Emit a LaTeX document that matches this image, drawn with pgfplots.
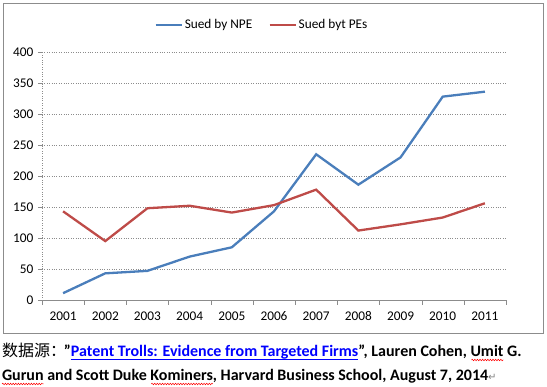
\documentclass[border=0pt]{standalone}
\usepackage{pgfplots}
\pgfplotsset{compat=1.18}
\usepackage{fontspec}
\usetikzlibrary{decorations.pathmorphing}
\setmainfont{Carlito}
\newfontfamily\cjk{Noto Sans CJK SC}
\newfontfamily\dejavu{DejaVu Sans}
\definecolor{npe}{HTML}{4A7EBB}
\definecolor{pes}{HTML}{BE4B48}
\definecolor{gridc}{HTML}{8C8C8C}
\definecolor{lnk}{HTML}{0000FF}
\begin{document}
\begin{tikzpicture}[x=1pt,y=1pt,
  captxt/.style={anchor=base west, inner sep=0pt, outer sep=0pt, font=\fontsize{16}{18}\selectfont\bfseries},
  wave/.style={red, line width=0.5pt, decorate, decoration={snake, amplitude=0.8pt, segment length=2.6pt}}]
\useasboundingbox (0,0) rectangle (547,387);
\draw[gridc, line width=0.8pt] (3,384) rectangle (543,54);
\begin{axis}[
  at={(42pt,87pt)}, anchor=south west,
  scale only axis, width=464pt, height=248pt,
  xmin=0.5, xmax=11.5, ymin=0, ymax=400,
  xtick={1,...,11},
  xticklabels={2001,2002,2003,2004,2005,2006,2007,2008,2009,2010,2011},
  minor xtick={0.5,1.5,...,11.5},
  ytick={0,50,...,400},
  major x tick style={draw=none},
  minor tick length=5pt, major tick length=4pt,
  tick align=outside,
  tick style={gridc},
  axis x line*=bottom, axis y line*=left,
  x axis line style={gridc,-},
  y axis line style={gridc,dotted,-},
  ymajorgrids, grid style={gridc, dotted, line width=0.6pt},
  tick label style={font=\fontsize{13.3}{15}\selectfont},
  yticklabel style={xshift=-1pt},
  xticklabel style={yshift=-4pt},
  /pgf/number format/assume math mode=true,
  legend style={at={(axis description cs:0.474,1)}, anchor=center, yshift=27pt,
    draw=none, fill=none, legend columns=2,
    font=\fontsize{13.3}{15}\selectfont,
    /tikz/every even column/.append style={column sep=14pt}},
  legend image code/.code={\draw[#1] (0pt,0pt) -- (26pt,0pt);},
]
\addplot[npe, line width=2.3pt] coordinates {
(1,11) (2,43) (3,47) (4,70) (5,85) (6,143) (7,235) (8,186) (9,230) (10,328) (11,336)};
\addlegendentry{Sued by NPE}
\addplot[pes, line width=2.3pt] coordinates {
(1,143) (2,95) (3,148) (4,152) (5,141) (6,153) (7,178) (8,112) (9,122) (10,133) (11,156)};
\addlegendentry{Sued byt PEs}
\end{axis}
% caption line 1
\node[captxt] (a) at (2,30) {{\cjk\mdseries 数据源：}\kern-2pt”};
\node[captxt, text=lnk] (b) at (a.base east) {Patent Trolls: Evidence from Targeted Firms};
\draw[lnk, line width=0.9pt] ([yshift=-2pt]b.base west) -- ([yshift=-2pt]b.base east);
\node[captxt] (c) at (b.base east) {”, Lauren Cohen,};
\node[captxt] (d) at (c.base east) {\ Umit};
\draw[wave] ([xshift=4.5pt,yshift=-3pt]d.base west) -- ([yshift=-3pt]d.base east);
\node[captxt] (e) at (d.base east) {\ G.};
% caption line 2
\node[captxt] (f) at (2,6) {Gurun};
\draw[wave] ([yshift=-3pt]f.base west) -- ([yshift=-3pt]f.base east);
\node[captxt] (g) at (f.base east) {\ and Scott Duke};
\node[captxt] (h) at (g.base east) {\ Kominers};
\draw[wave] ([xshift=4.5pt,yshift=-3pt]h.base west) -- ([yshift=-3pt]h.base east);
\node[captxt] (i) at (h.base east) {, Harvard Business School, August 7, 2014{\dejavu\mdseries\fontsize{10}{11}\selectfont\color{gray}↵}};
\end{tikzpicture}
\end{document}
